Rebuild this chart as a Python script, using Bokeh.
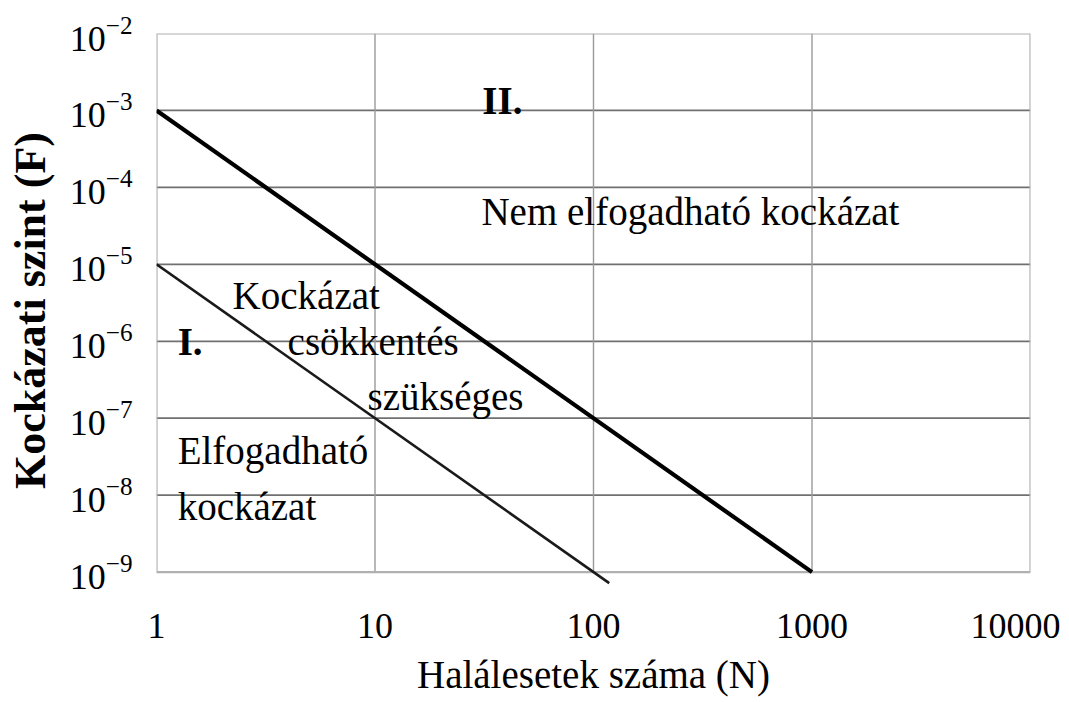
from bokeh.plotting import figure
from bokeh.models import Range1d, FixedTicker, Label
from bokeh.embed import file_html
from bokeh.resources import INLINE

# ---- data ----
N_ticks = [1, 10, 100, 1000, 10000]
N_tick_labels = ["1", "10", "100", "1000", "10000"]
F_ticks = [1e-9, 1e-8, 1e-7, 1e-6, 1e-5, 1e-4, 1e-3, 1e-2]

upper_N = [1, 1000]          # upper limit line (thick)
upper_F = [1e-3, 1e-9]
lower_N = [1, 118]           # lower limit line (thin)
lower_F = [1e-5, 7.2e-10]

FONT = "Liberation Serif"

p = figure(width=1060, height=700,
           x_axis_type="log", y_axis_type="log",
           x_range=Range1d(N_ticks[0], N_ticks[-1]),
           y_range=Range1d(10 ** -9.2, F_ticks[-1]),
           output_backend="svg", toolbar_location=None,
           min_border_left=156, min_border_right=30,
           min_border_top=33, min_border_bottom=113)
p.outline_line_color = None
p.grid.visible = False

# grid lines (from tick arrays)
p.segment(x0=[N_ticks[0]] * len(F_ticks[1:-1]), x1=[N_ticks[-1]] * len(F_ticks[1:-1]),
          y0=F_ticks[1:-1], y1=F_ticks[1:-1], line_color="#707070", line_width=1.8)
p.segment(x0=N_ticks[1:-1], x1=N_ticks[1:-1],
          y0=[F_ticks[0]] * len(N_ticks[1:-1]), y1=[F_ticks[-1]] * len(N_ticks[1:-1]),
          line_color="#9a9a9a", line_width=1.4)
# plot box
p.quad(left=[N_ticks[0]], right=[N_ticks[-1]], bottom=[F_ticks[0]], top=[F_ticks[-1]],
       fill_color=None, line_color="#b0b0b0", line_width=2.2)

# limit lines
p.line(lower_N, lower_F, line_color="#1a1a1a", line_width=2.6)
p.line(upper_N, upper_F, line_color="black", line_width=4.2)

# axes
for ax in (p.xaxis[0], p.yaxis[0]):
    ax.axis_line_color = None
    ax.major_tick_line_color = None
    ax.minor_tick_line_color = None
    ax.major_label_text_font = FONT
    ax.major_label_text_font_size = "36px"
    ax.major_label_text_color = "black"
    ax.axis_label_text_font = FONT
    ax.axis_label_text_color = "black"

p.xaxis.ticker = FixedTicker(ticks=N_ticks)
p.xaxis.major_label_overrides = dict(zip(N_ticks, N_tick_labels))
p.xaxis.major_label_standoff = 20
p.xaxis.axis_label = "Halálesetek száma (N)"
p.xaxis.axis_label_text_font_size = "39px"
p.xaxis.axis_label_text_font_style = "normal"
p.xaxis.axis_label_standoff = 12

p.yaxis.ticker = FixedTicker(ticks=F_ticks)
p.yaxis.major_label_standoff = 18
p.yaxis.axis_label = "Kockázati szint (F)"
p.yaxis.axis_label_text_font_size = "44px"
p.yaxis.axis_label_text_font_style = "bold"
p.yaxis.axis_label_standoff = 12

# region annotations
def note(x, y, txt, bold=False, size="39px"):
    p.add_layout(Label(x=x, y=y, text=txt, text_font=FONT, text_font_size=size,
                       text_font_style="bold" if bold else "normal",
                       text_align="left", text_baseline="middle", text_color="black"))

note(31, 10 ** -2.871, "II.", bold=True)
note(30.7, 10 ** -4.315, "Nem elfogadható kockázat")
note(2.23, 10 ** -5.407, "Kockázat")
note(3.98, 10 ** -6.005, "csökkentés")
note(9.24, 10 ** -6.72, "szükséges")
note(1.25, 10 ** -6.005, "I.", bold=True)
note(1.25, 10 ** -7.42, "Elfogadható")
note(1.25, 10 ** -8.15, "kockázat")

open("out.html", "w").write(file_html(p, INLINE))
